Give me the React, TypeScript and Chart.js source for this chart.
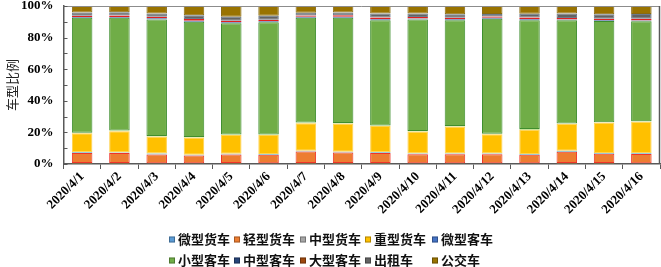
import React, { useEffect, useRef } from "react";
import { Chart, registerables } from "chart.js";

Chart.register(...registerables);

const categories = [
  "2020/4/1", "2020/4/2", "2020/4/3", "2020/4/4", "2020/4/5", "2020/4/6", "2020/4/7", "2020/4/8",
  "2020/4/9", "2020/4/10", "2020/4/11", "2020/4/12", "2020/4/13", "2020/4/14", "2020/4/15", "2020/4/16",
];

const seriesNames = ["微型货车", "轻型货车", "中型货车", "重型货车", "微型客车", "小型客车", "中型客车", "大型客车", "出租车", "公交车"];

const weiXingHuoChe = [0.6, 0.6, 0.5, 0.5, 0.6, 0.5, 0.6, 0.6, 0.6, 0.5, 0.5, 0.5, 0.5, 0.6, 0.6, 0.5];
const qingXingHuoChe = [6.3, 6.3, 5.5, 4.9, 5.4, 5.3, 7.3, 6.7, 6.3, 5.6, 5.6, 5.6, 5.4, 7.2, 5.9, 5.8];
const zhongXingHuoChe = [0.5, 0.4, 0.6, 0.5, 0.5, 0.6, 0.5, 0.5, 0.5, 0.5, 0.6, 0.5, 0.5, 0.6, 0.5, 0.5];
const zhongXingHuoCheHeavy = [12.1, 13.5, 10.8, 10.9, 11.8, 11.9, 17.4, 17.8, 16.7, 14.0, 17.0, 12.2, 15.3, 17.0, 19.2, 19.9];
const weiXingKeChe = [0.3, 0.4, 0.3, 0.3, 0.3, 0.3, 0.4, 0.3, 0.3, 0.3, 0.3, 0.3, 0.4, 0.3, 0.3, 0.4];
const xiaoXingKeChe = [72.7, 71.3, 73.8, 72.9, 70.5, 71.1, 66.3, 66.6, 66.6, 70.6, 67.0, 72.9, 68.9, 65.3, 64.0, 63.2];
const zhongXingKeChe = [0.6, 0.6, 0.7, 0.6, 0.6, 0.6, 0.7, 0.7, 0.6, 0.6, 0.6, 0.6, 0.6, 0.5, 0.5, 0.6];
const daXingKeChe = [0.8, 0.9, 1.0, 1.1, 0.9, 1.0, 0.8, 0.9, 1.2, 1.0, 0.9, 0.8, 1.1, 0.9, 0.9, 1.0];
const chuZuChe = [2.0, 2.0, 2.0, 2.4, 2.6, 2.5, 1.8, 1.8, 2.4, 2.2, 2.3, 1.6, 2.4, 2.8, 2.8, 3.0];
const gongJiaoChe = [4.1, 4.0, 4.8, 5.9, 6.8, 6.2, 4.2, 4.1, 4.8, 4.7, 5.2, 5.0, 4.9, 4.8, 5.3, 5.1];

const seriesValues = [
  weiXingHuoChe, qingXingHuoChe, zhongXingHuoChe, zhongXingHuoCheHeavy, weiXingKeChe,
  xiaoXingKeChe, zhongXingKeChe, daXingKeChe, chuZuChe, gongJiaoChe,
];

const yTicks = [0, 10, 20, 30, 40, 50, 60, 70, 80, 90, 100];

const fillColors = ["#5B9BD5", "#ED7D31", "#A5A5A5", "#FFC000", "#4472C4", "#70AD47", "#264478", "#9E480E", "#636363", "#997300"];
const edgeColors = ["#D4A62A", "#F0342A", "#4BACC6", "#FFD24D", "#9BD050", "#3E8E2E", "#3A5FA0", "#E02020", "#6B7B8C", "#8A6A10"];

const legendCols = [169, 234, 300, 365, 432];
const legendRows = [239.5, 260.5];

const SERIF = "Liberation Serif";
const CJK = "Noto Sans CJK SC";

const framePlugin = {
  id: "frame",
  afterDraw(chart: any) {
    const { ctx, chartArea } = chart;
    const ys = chart.scales.y;
    ctx.save();
    ctx.strokeStyle = "#8C8C8C";
    ctx.lineWidth = 1;
    ctx.beginPath();
    ctx.moveTo(chartArea.left, chartArea.top + 0.5);
    ctx.lineTo(chartArea.right, chartArea.top + 0.5);
    ctx.stroke();
    ctx.strokeStyle = "#595959";
    ctx.lineWidth = 1.5;
    ctx.beginPath();
    ctx.moveTo(chartArea.right - 0.5, chartArea.top);
    ctx.lineTo(chartArea.right - 0.5, chartArea.bottom);
    ctx.stroke();
    ctx.lineWidth = 1;
    for (const v of yTicks) {
      const y = Math.round(ys.getPixelForValue(v)) + 0.5;
      ctx.beginPath();
      ctx.moveTo(chartArea.left, y);
      ctx.lineTo(chartArea.left + 4, y);
      ctx.stroke();
    }
    ctx.font = `bold 13px "${CJK}"`;
    ctx.textBaseline = "middle";
    ctx.textAlign = "left";
    chart.data.datasets.forEach((ds: any, i: number) => {
      const x = legendCols[i % 5];
      const cy = legendRows[Math.floor(i / 5)];
      ctx.fillStyle = ds.backgroundColor;
      ctx.fillRect(x, cy - 3, 6, 6);
      ctx.strokeStyle = "rgba(0,0,0,0.3)";
      ctx.strokeRect(x + 0.5, cy - 2.5, 5, 5);
      ctx.fillStyle = "#111";
      ctx.fillText(ds.label, x + 9, cy);
    });
    ctx.restore();
  },
};

export default function App() {
  const ref = useRef<HTMLCanvasElement | null>(null);

  useEffect(() => {
    if (!ref.current) return;
    Chart.defaults.font.family = SERIF;
    const tickFont = { family: SERIF, weight: "bold" as const, size: 13 };
    const chart = new Chart(ref.current, {
      type: "bar",
      data: {
        labels: categories,
        datasets: seriesNames.map((name, i) => ({
          label: name,
          data: seriesValues[i],
          backgroundColor: fillColors[i],
          borderColor: edgeColors[i],
          borderWidth: 1,
          borderSkipped: false,
          barPercentage: 0.55,
          categoryPercentage: 1,
        })),
      },
      options: {
        responsive: false,
        animation: false,
        layout: { padding: { top: 6, right: 1, left: 0, bottom: 0 } },
        plugins: {
          legend: { display: false },
          tooltip: { enabled: false },
          title: { display: false },
        },
        scales: {
          x: {
            stacked: true,
            offset: true,
            grid: { display: true, drawOnChartArea: false, drawTicks: true, tickLength: 5, color: "#595959", offset: true },
            border: { display: true, color: "#595959", width: 1.5 },
            ticks: { font: tickFont, color: "#000", minRotation: 45, maxRotation: 45, autoSkip: false, padding: 0 },
            afterFit(s: any) {
              s.height = 103;
              s.paddingLeft = 0;
              s.paddingRight = 0;
            },
          },
          y: {
            stacked: true,
            min: 0,
            max: 100,
            grid: { drawOnChartArea: false, drawTicks: false },
            border: { display: true, color: "#595959", width: 1.5 },
            ticks: {
              stepSize: 10,
              font: tickFont,
              color: "#000",
              padding: 10,
              callback: (v: any) => v + "%",
            },
            title: {
              display: true,
              text: "车型比例",
              font: { family: CJK, size: 13 },
              color: "#222",
              padding: { top: 4, bottom: 0 },
            },
            afterFit(s: any) {
              s.width = 63.5;
              s.paddingTop = 0;
              s.paddingBottom = 0;
            },
          },
        },
      },
      plugins: [framePlugin],
    });
    const fonts: any = (document as any).fonts;
    if (fonts && fonts.load) {
      Promise.all([
        fonts.load(`bold 13px "${SERIF}"`),
        fonts.load(`13px "${CJK}"`),
        fonts.load(`bold 13px "${CJK}"`),
      ]).then(() => {
        try { chart.update(); } catch (e) {}
      }).catch(() => {});
    }
    return () => chart.destroy();
  }, []);

  return (
    <div style={{ position: "absolute", left: 0, top: 0, width: 661, height: 267 }}>
      <canvas ref={ref} width={661} height={267} style={{ display: "block", width: 661, height: 267 }} />
    </div>
  );
}
